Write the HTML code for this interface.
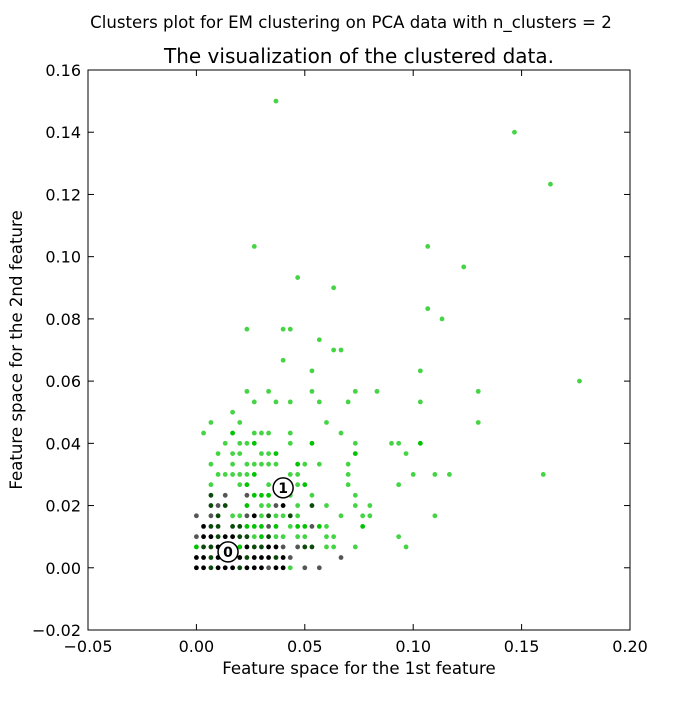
<!DOCTYPE html>
<html><head><meta charset="utf-8"><style>
body{margin:0;background:#fff;}
svg text{font-family:"DejaVu Sans","Liberation Sans",sans-serif;fill:#000;}
</style></head><body>
<svg id="chart" width="700" height="700" viewBox="0 0 700 700" xmlns="http://www.w3.org/2000/svg">
<rect width="700" height="700" fill="#fff"/>
<text x="351" y="28" font-size="16.6" text-anchor="middle">Clusters plot for EM clustering on PCA data with n_clusters = 2</text>
<text x="359" y="63" font-size="20" text-anchor="middle">The visualization of the clustered data.</text>
<text x="359" y="674" font-size="16.6" text-anchor="middle">Feature space for the 1st feature</text>
<text transform="translate(22,350) rotate(-90)" font-size="16.6" text-anchor="middle">Feature space for the 2nd feature</text>
<g id="marks"></g>
<g id="axes"></g>
</svg>
<script>
const xTicks=[-0.05,0,0.05,0.1,0.15,0.2];
const xTickLabels=["\u22120.05","0.00","0.05","0.10","0.15","0.20"];
const yTicks=[-0.02,0,0.02,0.04,0.06,0.08,0.1,0.12,0.14,0.16];
const yTickLabels=["\u22120.02","0.00","0.02","0.04","0.06","0.08","0.10","0.12","0.14","0.16"];
const rowYs=[0,0.0033,0.0067,0.01,0.0133,0.0167,0.02,0.0233,0.0267,0.03,0.0333,0.0367,0.04,0.0433,0.0467,0.05,0.0533,0.0567,0.06,0.0633,0.0667,0.07,0.0733,0.0767,0.08,0.0833,0.09,0.0933,0.0967,0.1033,0.1233,0.14,0.15];
const rowXs=[
[0,0.0033,0.0067,0.01,0.0133,0.0167,0.02,0.0233,0.0267,0.03,0.0333,0.0367,0.04,0.0433,0.05,0.0567],
[0,0.0033,0.0067,0.01,0.0133,0.0167,0.02,0.0233,0.0267,0.03,0.0333,0.0367,0.04,0.0433,0.0667],
[0,0.0033,0.0067,0.01,0.0133,0.0167,0.02,0.0233,0.0267,0.03,0.0333,0.0367,0.04,0.0467,0.05,0.0533,0.06,0.0633,0.0733,0.0967],
[0,0.0033,0.0067,0.01,0.0133,0.0167,0.02,0.0233,0.0267,0.03,0.0333,0.0367,0.04,0.0467,0.05,0.06,0.0633,0.0933],
[0.0033,0.0067,0.01,0.0167,0.02,0.0233,0.0267,0.03,0.0333,0.0367,0.0433,0.0467,0.05,0.0533,0.0567,0.06,0.0767],
[0,0.0067,0.01,0.0167,0.02,0.0233,0.0267,0.03,0.0333,0.0367,0.04,0.0433,0.0467,0.0667,0.0767,0.08,0.11],
[0.0067,0.01,0.0133,0.0233,0.03,0.0333,0.0367,0.04,0.0467,0.0533,0.06,0.0733,0.08],
[0.0067,0.0133,0.0233,0.0267,0.03,0.0333,0.0433,0.0533,0.0733],
[0.0067,0.02,0.0233,0.0333,0.0467,0.05,0.07,0.0933],
[0.01,0.0133,0.0167,0.02,0.0233,0.0267,0.0433,0.0467,0.07,0.1,0.11,0.1167,0.16],
[0.0067,0.0167,0.0233,0.0267,0.03,0.0333,0.0367,0.0467,0.05,0.0567,0.07],
[0.01,0.0167,0.02,0.03,0.0333,0.0367,0.0733,0.0967],
[0.0133,0.02,0.0233,0.0267,0.0433,0.0533,0.0733,0.09,0.0933,0.1033],
[0.0033,0.0167,0.0267,0.03,0.0333,0.0433,0.0667],
[0.0067,0.02,0.06,0.13],
[0.0167],
[0.0267,0.0367,0.0433,0.0567,0.07,0.1033],
[0.0233,0.0333,0.0533,0.0733,0.0833,0.13],
[0.1767],
[0.0533,0.1033],
[0.04],
[0.0633,0.0667],
[0.0567],
[0.0233,0.04,0.0433],
[0.1133],
[0.1067],
[0.0633],
[0.0467],
[0.1233],
[0.0267,0.1067],
[0.1633],
[0.1467],
[0.0367]];
const rowShades=["kkdkkkdkkkgkklgg","kkdkkkkdkkkdkgg","GddkkkGkddkkggddllll","gkkdkkddlGdlllllll","kddddGGGgGlGGgGlG","ggdllgkldlldlllll","dgdGllgkldlll","dggGGGlll","llGllGll","lllllGllllllll","lllllllGlll","lllllGGlG","lllGlGlllGl","lGlllll","llll","l","llllll","llllll","l","ll","l","ll","l","lll","l","l","l","l","l","ll","l","l","l"];
const centersX=[0.0146,0.040];
const centersY=[0.0051,0.0257];
const centerLabels=["0","1"];
</script>
<script>
const L=88,R=630,T=70,B=630;
const NS="http://www.w3.org/2000/svg";
function sx(v){return L+(v-(-0.05))/(0.25)*(R-L);}
function sy(v){return B-(v-(-0.02))/(0.18)*(B-T);}
const colors={k:"#000000",d:"#0b4a0b",g:"#555555",G:"#00c400",l:"#44d444"};
const marks=document.getElementById('marks');
rowYs.forEach(function(y,r){
  const sh=rowShades[r];
  rowXs[r].forEach(function(x,k){
    const c=document.createElementNS(NS,'circle');
    c.setAttribute('cx',sx(x));c.setAttribute('cy',sy(y));c.setAttribute('r',2.4);
    c.setAttribute('fill',colors[sh[k]]||colors.l);
    
    
    marks.appendChild(c);
  });
});
centersX.forEach(function(x,i){
  const g=document.createElementNS(NS,'g');
  
  
  const c=document.createElementNS(NS,'circle');
  c.setAttribute('cx',sx(x));c.setAttribute('cy',sy(centersY[i]));c.setAttribute('r',10);
  c.setAttribute('fill','#fff');c.setAttribute('stroke','#000');c.setAttribute('stroke-width','1.5');
  g.appendChild(c);
  const t=document.createElementNS(NS,'text');
  t.setAttribute('x',sx(x));t.setAttribute('y',sy(centersY[i])+5);
  t.setAttribute('text-anchor','middle');t.setAttribute('font-size','14');t.setAttribute('font-weight','bold');
  t.textContent=centerLabels[i];
  g.appendChild(t);
  marks.appendChild(g);
});
const axes=document.getElementById('axes');
const frame=document.createElementNS(NS,'rect');
frame.setAttribute('x',L);frame.setAttribute('y',T);frame.setAttribute('width',R-L);frame.setAttribute('height',B-T);
frame.setAttribute('fill','none');frame.setAttribute('stroke','#000');frame.setAttribute('stroke-width','1');


axes.appendChild(frame);
function line(x1,y1,x2,y2){const l=document.createElementNS(NS,'line');l.setAttribute('x1',x1);l.setAttribute('y1',y1);l.setAttribute('x2',x2);l.setAttribute('y2',y2);l.setAttribute('stroke','#000');l.setAttribute('stroke-width','1');axes.appendChild(l);return l;}
xTicks.forEach(function(v,i){
  const x=sx(v);
  line(x,B,x,B-6);line(x,T,x,T+6);
  const t=document.createElementNS(NS,'text');
  t.setAttribute('x',x);t.setAttribute('y',B+22);t.setAttribute('text-anchor','middle');t.setAttribute('font-size','16');
  t.textContent=xTickLabels[i];
  
  
  axes.appendChild(t);
});
yTicks.forEach(function(v,i){
  const y=sy(v);
  line(L,y,L+6,y);line(R,y,R-6,y);
  const t=document.createElementNS(NS,'text');
  t.setAttribute('x',L-7);t.setAttribute('y',y+6);t.setAttribute('text-anchor','end');t.setAttribute('font-size','16');
  t.textContent=yTickLabels[i];
  
  
  axes.appendChild(t);
});
</script>
</body></html>
